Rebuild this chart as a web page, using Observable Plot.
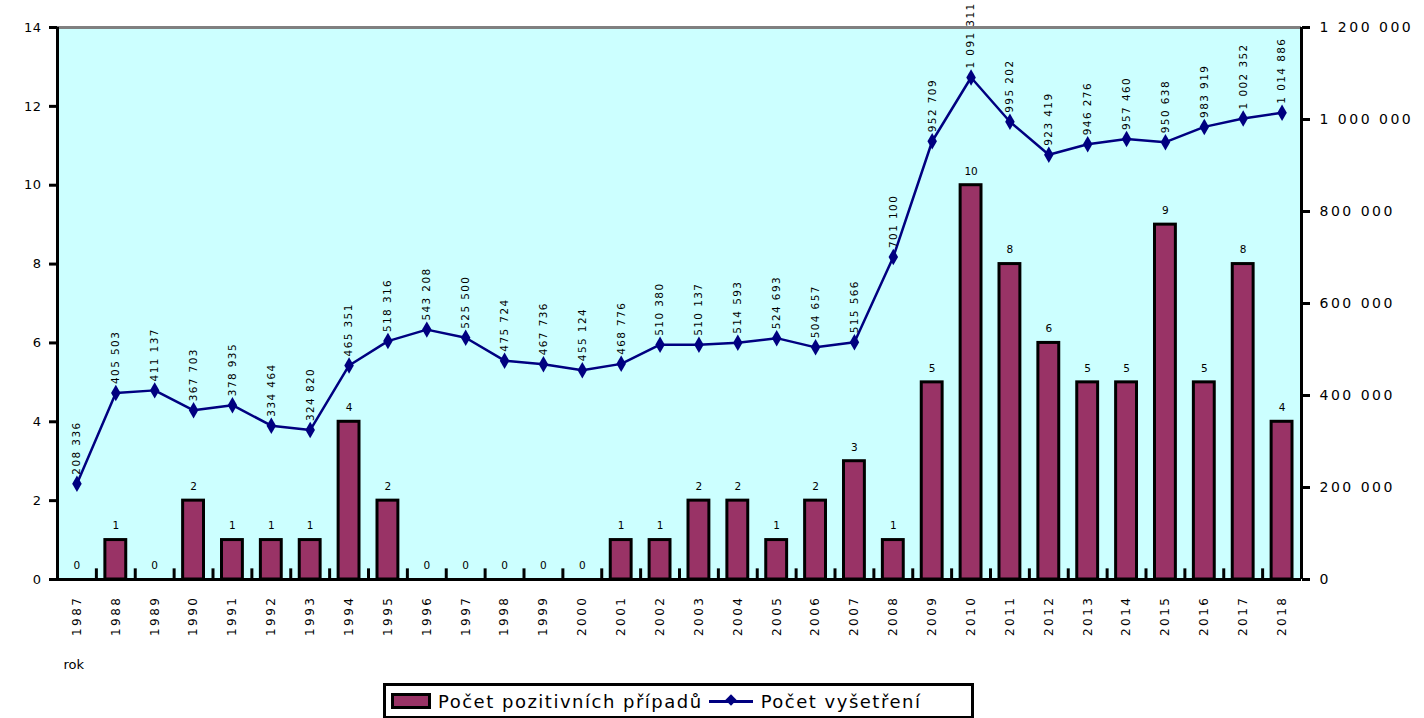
<!DOCTYPE html>
<html>
<head>
<meta charset="utf-8">
<script src="https://cdn.jsdelivr.net/npm/d3@7"></script>
<script src="https://cdn.jsdelivr.net/npm/@observablehq/plot@0.6"></script>
<style>
  body { margin: 0; background: white; font-family: "DejaVu Sans", Verdana, sans-serif; }
  #chart { position: relative; width: 1424px; height: 680px; }
  #legend {
    position: absolute; left: 383px; top: 683px; width: 591px; height: 36px;
    border: 3px solid black; box-sizing: border-box; background: white;
    display: flex; align-items: center; font-size: 18px; letter-spacing: 1.5px; color: #000; white-space: nowrap;
  }
  .sw { width: 34px; height: 10px; background: #993366; border: 3px solid black; margin-left: 5px; margin-right: 7px; flex: none; }
  .ln { position: relative; width: 44px; height: 3px; background: #000080; margin-left: 6px; margin-right: 8px; flex: none; }
  .ln::after { content: ""; position: absolute; left: 18px; top: -4px; width: 8px; height: 8px; background: #000080; transform: rotate(45deg); }
</style>
</head>
<body>
<div id="chart"></div>
<div id="legend"><div class="sw"></div><span>Počet pozitivních případů</span><div class="ln"></div><span>Počet vyšetření</span></div>
<script>
const years = ["1987","1988","1989","1990","1991","1992","1993","1994","1995","1996","1997","1998","1999","2000","2001","2002","2003","2004","2005","2006","2007","2008","2009","2010","2011","2012","2013","2014","2015","2016","2017","2018"];
const positives = [0,1,0,2,1,1,1,4,2,0,0,0,0,0,1,1,2,2,1,2,3,1,5,10,8,6,5,5,9,5,8,4];
const examinations = [208336,405503,411137,367703,378935,334464,324820,465351,518316,543208,525500,475724,467736,455124,468776,510380,510137,514593,524693,504657,515566,701100,952709,1091311,995202,923419,946276,957460,950638,983919,1002352,1014886];
const leftTicks = [0,2,4,6,8,10,12,14];
const rightTicks = [0,200000,400000,600000,800000,1000000,1200000];
const rightMax = 1200000, leftMax = 14;

const data = years.map((year, i) => ({year, pos: positives[i], exam: examinations[i]}));
const toLeft = v => v * leftMax / rightMax;
const fmt = v => d3.format(",")(v).replace(/,/g, " ");

const W = 1424, mL = 57, mR = 123;
const half = (W - mL - mR) / years.length / 2;

const chart = Plot.plot({
  width: W, height: 680,
  marginTop: 27, marginBottom: 101, marginLeft: mL, marginRight: mR,
  style: {fontFamily: "DejaVu Sans, Verdana, sans-serif", fontSize: "11px", background: "white", color: "black"},
  x: {type: "band", domain: years, padding: 0, round: false},
  y: {domain: [0, leftMax]},
  marks: [
    Plot.frame({fill: "#CCFFFF", stroke: null}),
    Plot.ruleY([leftMax], {stroke: "#808080", strokeWidth: 3}),
    Plot.barY(data, {x: "year", y: "pos", fill: "#993366", stroke: "black", strokeWidth: 3, insetLeft: 9, insetRight: 9}),
    Plot.text(data, {x: "year", y: "pos", text: d => String(d.pos), dy: -14, fontSize: 10.5}),
    Plot.line(data, {x: "year", y: d => toLeft(d.exam), stroke: "#000080", strokeWidth: 2.5}),
    Plot.dot(data, {x: "year", y: d => toLeft(d.exam), symbol: "diamond", fill: "#000080", r: 5}),
    Plot.text(data, {x: "year", y: d => toLeft(d.exam), text: d => fmt(d.exam), rotate: -90, textAnchor: "start", dy: -9, fontSize: 10.5}),
    Plot.ruleX(years, {dx: -half, y1: 0, y2: 0.27, stroke: "black", strokeWidth: 3}),
    Plot.ruleX([years[0]], {dx: -half, stroke: "black", strokeWidth: 3, y1: 0, y2: leftMax}),
    Plot.ruleX([years[years.length - 1]], {dx: half, stroke: "black", strokeWidth: 3, y1: 0, y2: leftMax}),
    Plot.ruleY([0], {stroke: "black", strokeWidth: 3}),
    Plot.axisY({anchor: "left", ticks: leftTicks, tickSize: 8, tickPadding: 8, fontSize: 13, strokeWidth: 3, label: null}),
    Plot.axisY({anchor: "right", ticks: rightTicks.map(toLeft), tickFormat: v => fmt(Math.round(v * rightMax / leftMax)), tickSize: 8, tickPadding: 10, fontSize: 14, strokeWidth: 3, label: null}),
    Plot.axisX({anchor: "bottom", tickRotate: -90, tickSize: 0, tickPadding: 16, fontSize: 12, label: null}),
    Plot.text(["rok"], {frameAnchor: "bottom-left", text: d => d, dx: 6, dy: 89, textAnchor: "start", fontSize: 13})
  ]
});
const textGroups = chart.querySelectorAll('g[aria-label="text"]');
if (textGroups[1]) textGroups[1].style.letterSpacing = "1.4px";
const yLabels = chart.querySelectorAll('g[aria-label="y-axis tick label"]');
if (yLabels[1]) yLabels[1].style.letterSpacing = "2.5px";
if (yLabels[0]) yLabels[0].style.letterSpacing = "0.5px";
const xLabels = chart.querySelector('g[aria-label="x-axis tick label"]');
if (xLabels) xLabels.style.letterSpacing = "2.5px";
document.getElementById("chart").appendChild(chart);
</script>
</body>
</html>
